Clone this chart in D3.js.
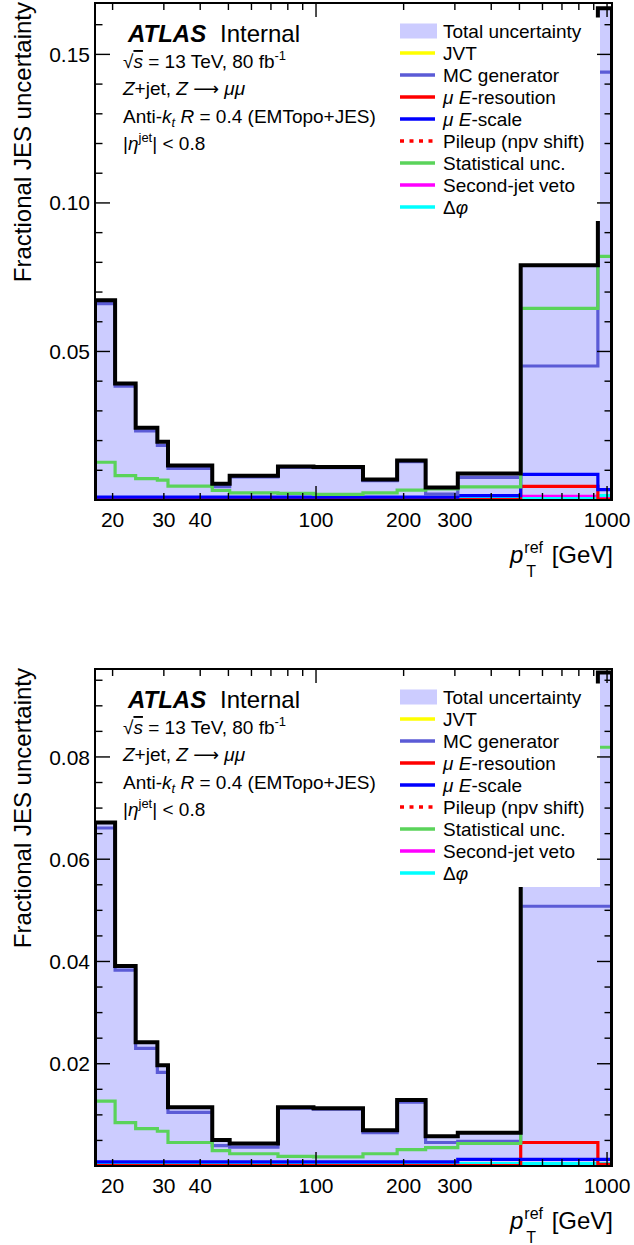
<!DOCTYPE html>
<html>
<head>
<meta charset="utf-8">
<script src="https://cdn.jsdelivr.net/npm/d3@7"></script>
<style>
  body { margin: 0; background: #fff; }
  svg { display: block; }
  text { font-family: "Liberation Sans", Arial, Helvetica, sans-serif; fill: #000; }
</style>
</head>
<body>
<svg id="chart" width="634" height="1245"></svg>
<script>
// p_T^ref bin edges [GeV]
const binEdges = [17.4, 20.4, 24, 28.5, 31, 44, 50.5, 74, 98, 145, 190, 238, 307, 505, 930, 1040];

// x-axis ticks (log axis) and the ones that carry a label
const xTickValues = [20, 30, 40, 50, 60, 70, 80, 90, 100, 200, 300, 400, 500, 600, 700, 800, 900, 1000];
const xTickLabels = [20, 30, 40, 100, 200, 300, 1000];

// Upper panel: fractional uncertainties per bin
const totalA  = [0.0672, 0.0392, 0.0243, 0.0196, 0.0116, 0.0055, 0.0082, 0.0113, 0.0111, 0.0069, 0.0133, 0.0042, 0.0089, 0.0790, 0.1655];
const mcA     = [0.0661, 0.0383, 0.0233, 0.0184, 0.0106, 0.0045, 0.0078, 0.0110, 0.0109, 0.0065, 0.0129, 0.0020, 0.0076, 0.0451, 0.1440];
const statA   = [0.0127, 0.0082, 0.0072, 0.0067, 0.0047, 0.0032, 0.0024, 0.0022, 0.0019, 0.0024, 0.0033, 0.0037, 0.0044, 0.0645, 0.0820];
const escaleA = [0.0010, 0.0010, 0.0010, 0.0010, 0.0010, 0.0010, 0.0010, 0.0010, 0.0010, 0.0010, 0.0010, 0.0010, 0.0015, 0.0086, 0.0035];
const eresA   = [0.0001, 0.0001, 0.0001, 0.0001, 0.0001, 0.0001, 0.0001, 0.0001, 0.0001, 0.0001, 0.0001, 0.0001, 0.0001, 0.0046, 0.0002];
const vetoA   = [0.0002, 0.0002, 0.0002, 0.0002, 0.0002, 0.0002, 0.0002, 0.0002, 0.0002, 0.0002, 0.0002, 0.0002, 0.0002, 0.0013, 0.0010];
const dphiA   = [0.0005, 0.0005, 0.0005, 0.0005, 0.0005, 0.0005, 0.0005, 0.0005, 0.0005, 0.0005, 0.0005, 0.0005, 0.0007, 0.0005, 0.0015];
const pileupA = [0.00005, 0.00005, 0.00005, 0.00005, 0.00005, 0.00005, 0.00005, 0.00005, 0.00005, 0.00005, 0.00005, 0.00005, 0.00005, 0.00005, 0.00005];
const jvtA    = [0.00005, 0.00005, 0.00005, 0.00005, 0.00005, 0.00005, 0.00005, 0.00005, 0.00005, 0.00005, 0.00005, 0.00005, 0.00005, 0.00005, 0.00005];
const yMajorA = [0.05, 0.10, 0.15];
const yLabelsA = ["0.05", "0.10", "0.15"];

// Lower panel: fractional uncertainties per bin
const totalB  = [0.0672, 0.0391, 0.0242, 0.0197, 0.0115, 0.0051, 0.0044, 0.0115, 0.0113, 0.0070, 0.0129, 0.0058, 0.0065, 0.0803, 0.0965];
const mcB     = [0.0661, 0.0383, 0.0230, 0.0183, 0.0105, 0.0040, 0.0037, 0.0113, 0.0111, 0.0065, 0.0125, 0.0046, 0.0048, 0.0508, 0.0508];
const statB   = [0.0127, 0.0085, 0.0073, 0.0068, 0.0046, 0.0030, 0.0024, 0.0019, 0.0018, 0.0024, 0.0032, 0.0036, 0.0044, 0.0620, 0.0819];
const escaleB = [0.0008, 0.0008, 0.0008, 0.0008, 0.0008, 0.0008, 0.0008, 0.0008, 0.0008, 0.0008, 0.0008, 0.0008, 0.0013, 0.0013, 0.0013];
const eresB   = [0.0001, 0.0001, 0.0001, 0.0001, 0.0001, 0.0001, 0.0001, 0.0001, 0.0001, 0.0001, 0.0001, 0.0001, 0.0001, 0.0046, 0.0003];
const vetoB   = [0.0002, 0.0002, 0.0002, 0.0002, 0.0002, 0.0002, 0.0002, 0.0002, 0.0002, 0.0002, 0.0002, 0.0002, 0.0002, 0.0002, 0.0002];
const dphiB   = [0.0005, 0.0005, 0.0005, 0.0005, 0.0005, 0.0005, 0.0005, 0.0005, 0.0005, 0.0005, 0.0005, 0.0005, 0.0005, 0.0005, 0.0005];
const pileupB = [0.00005, 0.00005, 0.00005, 0.00005, 0.00005, 0.00005, 0.00005, 0.00005, 0.00005, 0.00005, 0.00005, 0.00005, 0.00005, 0.00005, 0.00005];
const jvtB    = [0.00005, 0.00005, 0.00005, 0.00005, 0.00005, 0.00005, 0.00005, 0.00005, 0.00005, 0.00005, 0.00005, 0.00005, 0.00005, 0.00005, 0.00005];
const yMajorB = [0.02, 0.04, 0.06, 0.08];
const yLabelsB = ["0.02", "0.04", "0.06", "0.08"];

// Legend entries, in drawing order top to bottom
const legendKeys   = ["total", "jvt", "mc", "eres", "escale", "pileup", "stat", "veto", "dphi"];
const legendLabels = ["Total uncertainty", "JVT", "MC generator", "μ E-resoution", "μ E-scale",
                      "Pileup (npv shift)", "Statistical unc.", "Second-jet veto", "Δφ"];

// ---------------------------------------------------------------------------
const styles = {
  total:  { color: "#000000", width: 4 },
  mc:     { color: "#5b5bd6", width: 3.2 },
  stat:   { color: "#5ad35a", width: 3.2 },
  escale: { color: "#0000ff", width: 3.2 },
  eres:   { color: "#ff0000", width: 3.2 },
  pileup: { color: "#ff0000", width: 3, dash: "4,5.5" },
  veto:   { color: "#ff00ff", width: 3 },
  dphi:   { color: "#00ffff", width: 3 },
  jvt:    { color: "#ffff00", width: 3 }
};
const FILL = "#ccccff";

const panels = [
  { series: { total: totalA, mc: mcA, stat: statA, escale: escaleA, eres: eresA, veto: vetoA, dphi: dphiA, pileup: pileupA, jvt: jvtA },
    yMax: 0.1673, yMajor: yMajorA, yLabels: yLabelsA, minorStep: 0.01, top: 3, bottom: 500 },
  { series: { total: totalB, mc: mcB, stat: statB, escale: escaleB, eres: eresB, veto: vetoB, dphi: dphiB, pileup: pileupB, jvt: jvtB },
    yMax: 0.0972, yMajor: yMajorB, yLabels: yLabelsB, minorStep: 0.005, top: 669, bottom: 1166 }
];

const svg = d3.select("#chart");
const defs = svg.append("defs");
const X0 = 95, X1 = 612;

function drawPanel(p, idx) {
  const g = svg.append("g");
  const x = d3.scaleLog().domain([binEdges[0], binEdges[binEdges.length - 1]]).range([X0, X1]);
  const y = d3.scaleLinear().domain([0, p.yMax]).range([p.bottom, p.top]);

  defs.append("clipPath").attr("id", "plotclip" + idx)
    .append("rect").attr("x", X0).attr("y", p.top).attr("width", X1 - X0).attr("height", p.bottom - p.top);
  const plot = g.append("g").attr("clip-path", `url(#plotclip${idx})`);

  // filled total band
  const stepPts = vals => vals.map((v, i) => ({ e: binEdges[i], v }))
    .concat([{ e: binEdges[vals.length], v: vals[vals.length - 1] }]);
  const area = d3.area().curve(d3.curveStepAfter)
    .x(d => x(d.e)).y0(y(0)).y1(d => y(d.v));
  plot.append("path").attr("d", area(stepPts(p.series.total))).attr("fill", FILL);

  // histogram outline (with drops to zero at both ends)
  const line = d3.line().x(d => x(d[0])).y(d => y(d[1]));
  const outline = vals => {
    const pts = [[binEdges[0], 0]];
    vals.forEach((v, i) => { pts.push([binEdges[i], v]); pts.push([binEdges[i + 1], v]); });
    pts.push([binEdges[vals.length], 0]);
    return line(pts);
  };
  const order = ["jvt", "pileup", "veto", "dphi", "eres", "escale", "mc", "stat", "total"];
  order.forEach(k => {
    const s = styles[k];
    plot.append("path").attr("d", outline(p.series[k]))
      .attr("fill", "none").attr("stroke", s.color).attr("stroke-width", s.width)
      .attr("stroke-dasharray", s.dash || null).attr("stroke-linejoin", "miter");
  });

  // legend (opaque box)
  const lg = g.append("g");
  lg.append("rect").attr("x", 392).attr("y", p.top + 14.5).attr("width", 208).attr("height", 203.5).attr("fill", "#fff");
  legendKeys.forEach((k, i) => {
    const cy = p.top + 28 + i * 22;
    if (k === "total") {
      lg.append("rect").attr("x", 400).attr("y", cy - 7.5).attr("width", 37).attr("height", 15).attr("fill", FILL);
    } else {
      const s = styles[k];
      lg.append("line").attr("x1", 400).attr("x2", 435).attr("y1", cy).attr("y2", cy)
        .attr("stroke", s.color).attr("stroke-width", 3.4).attr("stroke-dasharray", s.dash || null);
    }
    const t = lg.append("text").attr("x", 443).attr("y", cy + 7).style("font-size", "19px");
    legendLabels[i].split(/(μ|φ|(?<=μ )E)/).filter(s => s.length).forEach(part => {
      const ts = t.append("tspan").text(part);
      if (part === "μ" || part === "φ" || part === "E") ts.style("font-style", "italic");
    });
  });

  // frame
  g.append("rect").attr("x", X0).attr("y", p.top).attr("width", X1 - X0).attr("height", p.bottom - p.top)
    .attr("fill", "none").attr("stroke", "#000").attr("stroke-width", 2);

  // y ticks (left and right)
  const minor = d3.range(p.minorStep, p.yMax, p.minorStep).map(v => +v.toFixed(4));
  const isMajor = v => p.yMajor.some(m => Math.abs(m - v) < 1e-6);
  minor.forEach(v => {
    const len = isMajor(v) ? 15 : 7.5;
    g.append("line").attr("x1", X0).attr("x2", X0 + len).attr("y1", y(v)).attr("y2", y(v)).attr("stroke", "#000").attr("stroke-width", 1.4);
    g.append("line").attr("x1", X1).attr("x2", X1 - len).attr("y1", y(v)).attr("y2", y(v)).attr("stroke", "#000").attr("stroke-width", 1.4);
  });
  p.yMajor.forEach((v, i) => {
    g.append("text").attr("x", 90).attr("y", y(v)).attr("dy", "0.36em")
      .attr("text-anchor", "end").style("font-size", "21px").text(p.yLabels[i]);
  });

  // x ticks (bottom and top)
  xTickValues.forEach(v => {
    const len = (v === 100 || v === 1000) ? 14 : 7;
    g.append("line").attr("x1", x(v)).attr("x2", x(v)).attr("y1", p.bottom).attr("y2", p.bottom - len).attr("stroke", "#000").attr("stroke-width", 1.4);
    g.append("line").attr("x1", x(v)).attr("x2", x(v)).attr("y1", p.top).attr("y2", p.top + len).attr("stroke", "#000").attr("stroke-width", 1.4);
  });
  xTickLabels.forEach(v => {
    g.append("text").attr("x", x(v)).attr("y", p.bottom + 27).attr("text-anchor", "middle")
      .style("font-size", "21px").text(v);
  });

  // y title
  g.append("text").attr("transform", `translate(31,${p.top - 1}) rotate(-90)`)
    .attr("text-anchor", "end").style("font-size", "24px").text("Fractional JES uncertainty");

  // x title: p_T^ref [GeV]
  const bx = 510, by = p.bottom + 63;
  const tp = g.append("text").attr("x", bx).attr("y", by).style("font-size", "24px").style("font-style", "italic").text("p");
  const pw = tp.node().getComputedTextLength();
  g.append("text").attr("x", bx + pw + 1).attr("y", by - 10).style("font-size", "16px").text("ref");
  g.append("text").attr("x", bx + pw + 3).attr("y", by + 14).style("font-size", "16px").text("T");
  g.append("text").attr("x", 613).attr("y", by).attr("text-anchor", "end").style("font-size", "24px").text("[GeV]");

  // labels in the upper left
  g.append("text").attr("x", 128).attr("y", p.top + 39).style("font-size", "24px")
    .style("font-weight", "bold").style("font-style", "italic").text("ATLAS");
  g.append("text").attr("x", 220).attr("y", p.top + 39).style("font-size", "24px").text("Internal");

  const l1 = g.append("text").attr("x", 123).attr("y", p.top + 65).style("font-size", "19px");
  l1.append("tspan").text("√");
  l1.append("tspan").style("font-style", "italic").style("text-decoration", "overline").text("s");
  l1.append("tspan").text(" = 13 TeV, 80 fb");
  l1.append("tspan").attr("dy", -8).style("font-size", "13px").text("-1");

  const l2 = g.append("text").attr("x", 123).attr("y", p.top + 92).style("font-size", "19px");
  l2.append("tspan").style("font-style", "italic").text("Z");
  l2.append("tspan").text("+jet, ");
  l2.append("tspan").style("font-style", "italic").text("Z");
  l2.append("tspan").text(" ");
  l2.append("tspan").style("font-family", "'DejaVu Sans', sans-serif").style("font-size", "18px").text("⟶");
  l2.append("tspan").text(" ");
  l2.append("tspan").style("font-style", "italic").text("μμ");

  const l3 = g.append("text").attr("x", 123).attr("y", p.top + 119.5).style("font-size", "19px");
  l3.append("tspan").text("Anti-");
  l3.append("tspan").style("font-style", "italic").text("k");
  l3.append("tspan").attr("dy", 4).style("font-size", "13px").style("font-style", "italic").text("t");
  l3.append("tspan").attr("dy", -4).text(" ");
  l3.append("tspan").style("font-style", "italic").text("R");
  l3.append("tspan").text(" = 0.4 (EMTopo+JES)");

  const l4 = g.append("text").attr("x", 123).attr("y", p.top + 147).style("font-size", "19px");
  l4.append("tspan").text("|");
  l4.append("tspan").style("font-style", "italic").text("η");
  l4.append("tspan").attr("dy", -8).style("font-size", "13px").text("jet");
  l4.append("tspan").attr("dy", 8).text("| < 0.8");
}

panels.forEach(drawPanel);
</script>
</body>
</html>
